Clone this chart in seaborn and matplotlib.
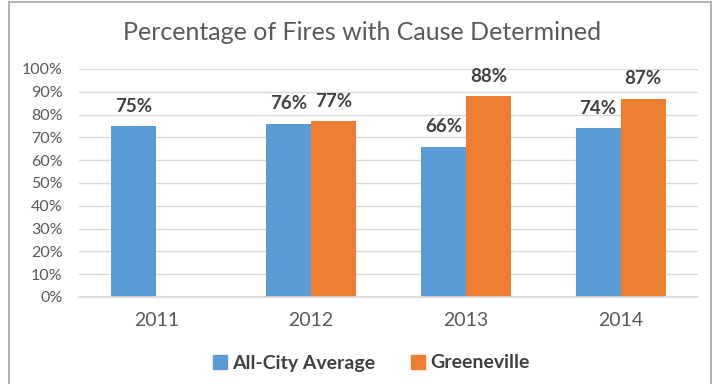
import matplotlib
matplotlib.use("Agg")
import matplotlib.pyplot as plt
import seaborn as sns
import pandas as pd
import numpy as np
from matplotlib.patches import Rectangle
from matplotlib.lines import Line2D

years = ["2011", "2012", "2013", "2014"]
all_city = [75, 76, 66, 74]
greeneville = [np.nan, 77, 88, 87]
series_names = ["All-City Average", "Greeneville"]
colors = ["#5B9BD5", "#ED7D31"]

sns.set_theme(style="white")
plt.rcParams['font.family'] = ['Lato', 'DejaVu Sans']

df = pd.DataFrame({
    "Year": years * 2,
    "Value": all_city + greeneville,
    "Series": [series_names[0]] * 4 + [series_names[1]] * 4,
})

fig = plt.figure(figsize=(7.19, 3.84), dpi=100)
ax = fig.add_axes([79/719, 1 - 297/384, (698-79)/719, (297-69)/384])

sns.barplot(data=df, x="Year", y="Value", hue="Series", palette=colors,
            width=0.58, ax=ax, legend=False, saturation=1, gap=0,
            linewidth=0, edgecolor="none")

ax.set_ylim(0, 100)
ax.set_xlim(-0.5, 3.5)
ax.set_yticks(range(0, 101, 10))
ax.set_yticklabels([f"{v}%" for v in range(0, 101, 10)], color="#595959", fontsize=11.5)
ax.set_xticklabels(years, color="#595959", fontsize=14)
ax.tick_params(axis="x", pad=11, length=0)
ax.tick_params(axis="y", pad=12, length=0)
ax.set_xlabel("")
ax.set_ylabel("")
ax.grid(axis="y", color="#D9D9D9", linewidth=1)
ax.set_axisbelow(True)
for s in ["top", "right", "left"]:
    ax.spines[s].set_visible(False)
ax.spines["bottom"].set_color("#D9D9D9")

for cont in ax.containers:
    for bar in cont:
        h = bar.get_height()
        if np.isnan(h) or h == 0:
            continue
        ax.text(bar.get_x() + bar.get_width()/2, h + 5, f"{int(round(h))}%",
                ha="center", va="bottom", fontsize=13.5, fontweight="bold", color="#404040")

fig.text(362/719, 1 - 33/384, "Percentage of Fires with Cause Determined",
         ha="center", va="center", fontsize=18, color="#595959")

handles = [Line2D([0], [0], marker="s", linestyle="", markersize=10,
                  markerfacecolor=c, markeredgecolor=c) for c in colors]
fig.legend(handles, series_names, loc="center", bbox_to_anchor=(369/719, 1 - 363/384),
           ncol=2, frameon=False, handletextpad=0.05, columnspacing=1.6, handlelength=1.2,
           prop={"size": 14, "weight": "bold"}, labelcolor="#404040")

fig.patches.append(Rectangle((9/719, -0.05), (711-9)/719, 1 - 2/384 + 0.05,
                             transform=fig.transFigure, fill=False,
                             edgecolor="#A6A6A6", linewidth=1.2))

fig.savefig("out.png", dpi=100)
